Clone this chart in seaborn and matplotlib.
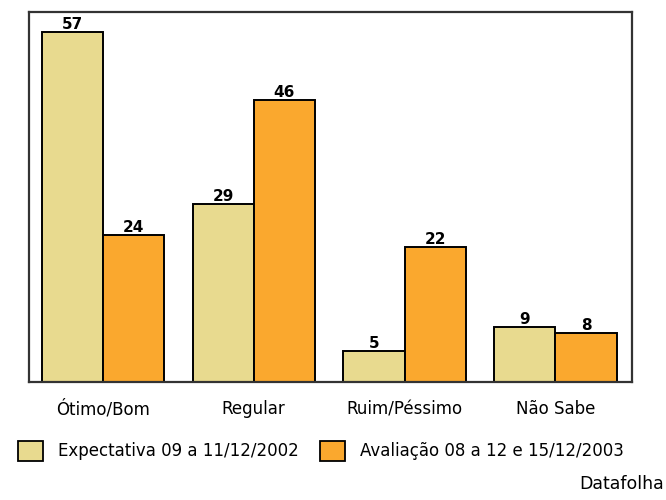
import numpy as np
import pandas as pd
import matplotlib
matplotlib.use("Agg")
import matplotlib.pyplot as plt
import seaborn as sns
from matplotlib.patches import Patch

categorias = ["Ótimo/Bom", "Regular", "Ruim/Péssimo", "Não Sabe"]
series = ["Expectativa 09 a 11/12/2002", "Avaliação 08 a 12 e 15/12/2003"]
expectativa = [57, 29, 5, 9]
avaliacao = [24, 46, 22, 8]
cores = ["#E8DA8F", "#FAA82E"]

df = pd.DataFrame({
    "categoria": categorias * 2,
    "serie": [series[0]] * 4 + [series[1]] * 4,
    "valor": expectativa + avaliacao,
})

sns.set_style("white")
plt.rcParams["font.family"] = ["DejaVu Sans"]
plt.rcParams["text.color"] = "black"
plt.rcParams["xtick.color"] = "black"

fig = plt.figure(figsize=(6.66, 5), dpi=100)
ax = fig.add_axes([0.0435, 0.236, 0.906, 0.74])

sns.barplot(data=df, x="categoria", y="valor", hue="serie", order=categorias,
            hue_order=series, palette=cores, width=0.81, edgecolor="black",
            linewidth=1.4, saturation=1, legend=False, ax=ax)

for c in ax.containers:
    ax.bar_label(c, fontsize=11, fontweight="bold", padding=0, color="black")

ax.set_ylim(0, 60.3)
ax.set_xlim(-0.49, 3.51)
ax.set_yticks([])
ax.set_xlabel("")
ax.set_ylabel("")
ax.tick_params(axis="x", length=0, pad=13, labelsize=12)
for s in ax.spines.values():
    s.set_color("#333333")
    s.set_linewidth(1.6)

handles = [Patch(facecolor=cores[i], edgecolor="black", linewidth=1.3, label=series[i])
           for i in range(2)]
fig.legend(handles=handles, loc="center", bbox_to_anchor=(0.482, 0.098), ncol=2,
           frameon=False, fontsize=12, handlelength=1.5, handleheight=1.5,
           columnspacing=1.3, handletextpad=0.9)

fig.text(0.997, 0.014, "Datafolha", ha="right", va="bottom", fontsize=12.5)

fig.savefig("out.png", dpi=100, facecolor="white")
